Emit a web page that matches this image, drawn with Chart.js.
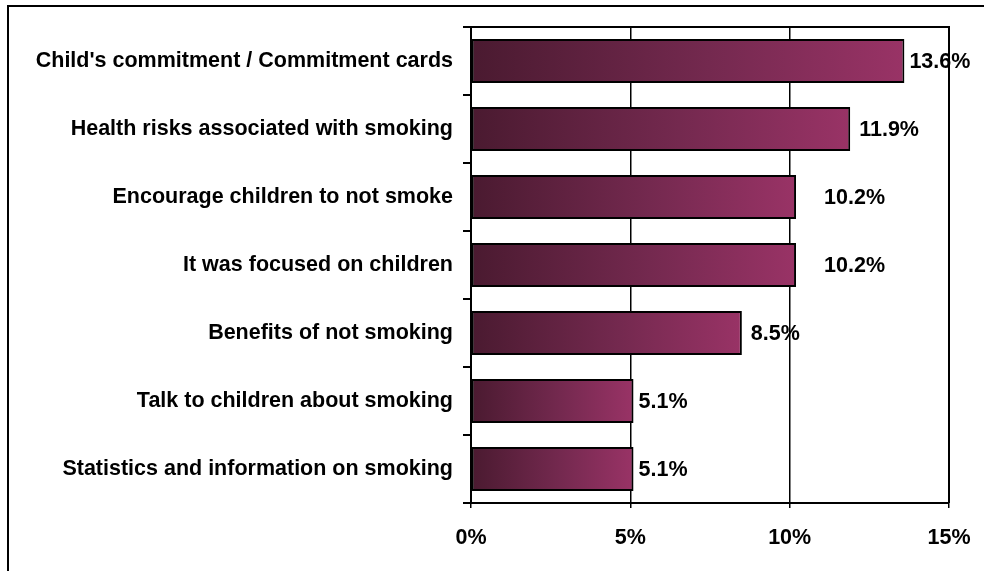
<!DOCTYPE html>
<html>
<head>
<meta charset="utf-8">
<title>Reasons</title>
<script src="https://cdn.jsdelivr.net/npm/chart.js@4/dist/chart.umd.min.js"></script>
<style>
    html, body { margin: 0; padding: 0; background: #fff; }
    #wrap { width: 984px; height: 571px; position: relative; }
</style>
</head>
<body>
<div id="wrap"><canvas id="myChart"></canvas></div>
<script>
    "use strict";

    const categories = [
        "Child's commitment / Commitment cards",
        "Health risks associated with smoking",
        "Encourage children to not smoke",
        "It was focused on children",
        "Benefits of not smoking",
        "Talk to children about smoking",
        "Statistics and information on smoking"
    ];
    const percents = [13.6, 11.9, 10.2, 10.2, 8.5, 5.1, 5.1];
    const xTicks = [0, 5, 10, 15];

    // gap between the end of a bar and its value label
    const labelGap = [5, 9, 28, 28, 9, 5, 5];

    const FONT = "'Liberation Sans', Arial, sans-serif";
    Chart.defaults.font.family = FONT;
    Chart.defaults.font.weight = 'bold';
    Chart.defaults.font.size = 21.5;
    Chart.defaults.color = '#000';

    function barGradient(ctx) {
        const chart = ctx.chart;
        const x = chart.scales.x;
        if (!x || ctx.type !== 'data') return '#993366';
        const x0 = x.getPixelForValue(0);
        const x1 = x.getPixelForValue(ctx.raw);
        if (!isFinite(x0) || !isFinite(x1) || x0 === x1) return '#993366';
        const g = chart.ctx.createLinearGradient(x0, 0, x1, 0);
        g.addColorStop(0, '#4a1a30');
        g.addColorStop(0.55, '#74294f');
        g.addColorStop(1, '#993366');
        return g;
    }

    // outer frame, plot box and value labels
    const decorations = {
        id: 'decorations',
        afterDraw(chart) {
            const c = chart.ctx;
            const area = chart.chartArea;
            c.save();
            c.strokeStyle = '#000';
            c.lineWidth = 2;
            c.strokeRect(8, 6, 1100, 700);
            c.beginPath();
            c.moveTo(area.left, area.top);
            c.lineTo(area.right, area.top);
            c.lineTo(area.right, area.bottom);
            c.stroke();

            c.fillStyle = '#000';
            c.font = 'bold 21.5px ' + FONT;
            c.textBaseline = 'middle';
            c.textAlign = 'left';
            chart.getDatasetMeta(0).data.forEach((bar, i) => {
                c.fillText(percents[i].toFixed(1) + '%', bar.x + labelGap[i], bar.y + 1);
            });
            c.restore();
        }
    };

    const ctx = document.getElementById('myChart').getContext('2d');
    const chart = new Chart(ctx, {
        type: 'bar',
        data: {
            labels: categories,
            datasets: [{
                data: percents,
                backgroundColor: barGradient,
                borderColor: '#000',
                borderWidth: 2,
                borderSkipped: false,
                categoryPercentage: 1,
                barPercentage: 0.65
            }]
        },
        options: {
            indexAxis: 'y',
            responsive: true,
            maintainAspectRatio: false,
            animation: false,
            layout: { padding: { left: 0, right: 35, top: 27, bottom: 0 } },
            plugins: {
                legend: { display: false },
                tooltip: { enabled: false }
            },
            scales: {
                x: {
                    min: 0,
                    max: 15,
                    afterBuildTicks: (scale) => {
                        scale.ticks = xTicks.map(v => ({ value: v }));
                    },
                    afterFit: (scale) => {
                        scale.height = 68;
                        scale.paddingLeft = 0;
                        scale.paddingRight = 0;
                    },
                    ticks: {
                        padding: 17,
                        callback: (v) => v + '%'
                    },
                    grid: {
                        color: '#000',
                        lineWidth: 1.5,
                        tickLength: 5,
                        tickColor: '#000'
                    },
                    border: { color: '#000', width: 2 }
                },
                y: {
                    afterFit: (scale) => { scale.width = 471; },
                    ticks: { padding: 10 },
                    grid: {
                        drawOnChartArea: false,
                        tickLength: 8,
                        tickColor: '#000',
                        lineWidth: 2
                    },
                    border: { color: '#000', width: 2 }
                }
            }
        },
        plugins: [decorations]
    });
</script>
</body>
</html>
